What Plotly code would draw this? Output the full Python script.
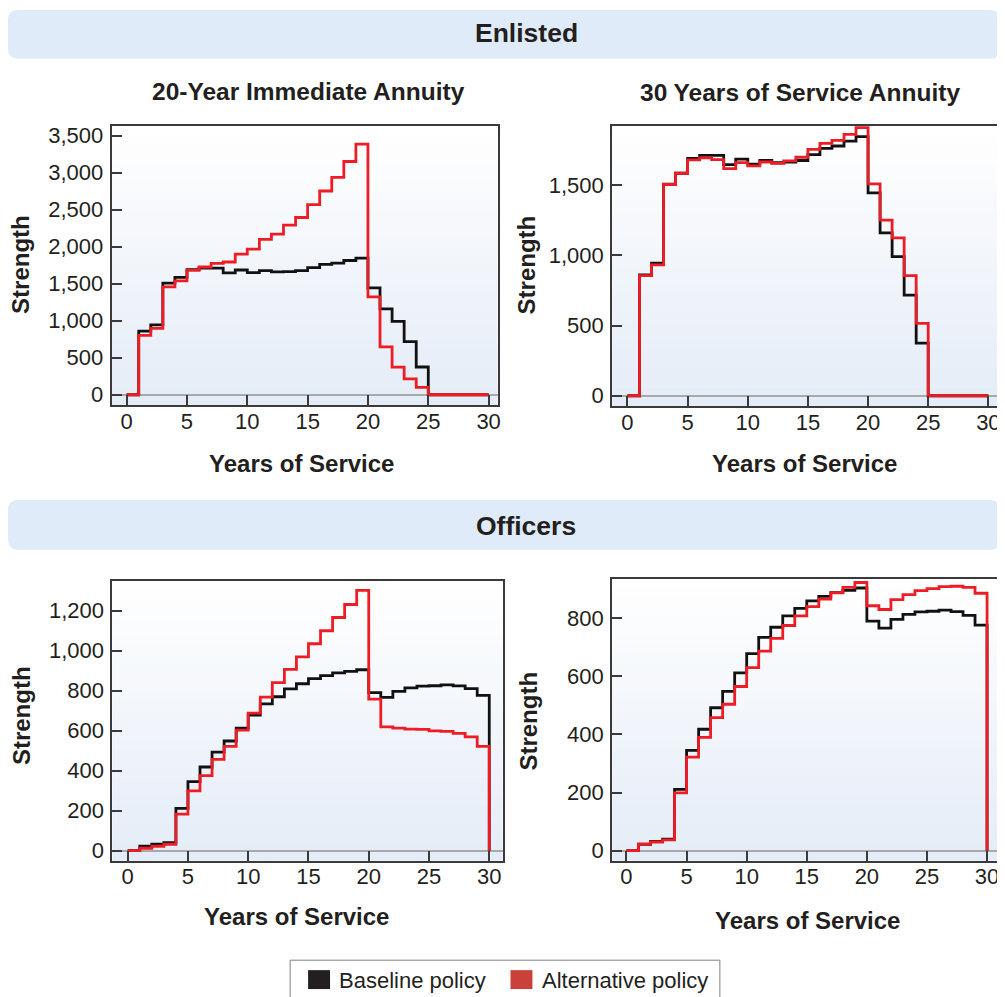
import plotly.graph_objects as go

# ---------------- data ----------------
years = [0, 1, 2, 3, 4, 5, 6, 7, 8, 9, 10, 11, 12, 13, 14, 15, 16, 17, 18, 19,
         20, 21, 22, 23, 24, 25, 26, 27, 28, 29, 30]

# value of each year-of-service cell [k, k+1); last entry is the level at year 30
enlisted_baseline = [0, 860, 945, 1508, 1585, 1690, 1712, 1712, 1646, 1686, 1650, 1677,
                     1660, 1664, 1676, 1718, 1762, 1779, 1814, 1846, 1445, 1160, 991,
                     717, 375, 0, 0, 0, 0, 0, 0]
enlisted_alt_20yr = [0, 803, 897, 1457, 1538, 1682, 1726, 1776, 1794, 1901, 1969, 2099,
                     2170, 2291, 2395, 2570, 2753, 2937, 3152, 3386, 1323, 646, 372,
                     215, 99, 0, 0, 0, 0, 0, 0]
enlisted_alt_30yr = [0, 855, 932, 1505, 1585, 1680, 1694, 1682, 1618, 1661, 1637, 1665,
                     1656, 1673, 1699, 1755, 1798, 1819, 1862, 1911, 1509, 1251, 1124,
                     856, 516, 0, 0, 0, 0, 0, 0]
officer_baseline = [0, 22, 32, 40, 211, 345, 418, 492, 548, 612, 678, 734, 769, 808, 834,
                    860, 875, 888, 896, 904, 790, 766, 796, 813, 822, 824, 828, 823, 810,
                    776, 0]
officer_alt_20yr = [0, 12, 22, 32, 183, 299, 375, 456, 521, 602, 687, 767, 840, 906, 968,
                    1034, 1099, 1165, 1230, 1301, 757, 619, 612, 607, 606, 599, 596, 586,
                    569, 521, 0]
officer_alt_30yr = [0, 23, 30, 37, 199, 322, 390, 458, 504, 565, 630, 687, 731, 775, 808,
                    840, 866, 887, 906, 923, 843, 830, 864, 881, 895, 902, 909, 910, 906,
                    886, 0]

series_names = ["Baseline policy", "Alternative policy"]
group_titles = ["Enlisted", "Officers"]
panel_titles = ["20-Year Immediate Annuity", "30 Years of Service Annuity"]
x_title = "Years of Service"
y_title = "Strength"
x_ticks = [0, 5, 10, 15, 20, 25, 30]

# ---------------- styling ----------------
W, H = 1005, 997
OFF = 8  # page body margin
FONT = "Liberation Sans, Arial, Helvetica, sans-serif"
TXT = "#231F20"
BLACK_LINE = "#111111"
RED_LINE = "#EE1C25"
BLACK_KEY = "#231F20"
RED_KEY = "#C9413A"

def px_x(p):
    return (p - OFF) / W

def px_y(p):
    return 1 - (p - OFF) / H

# panel geometry (page pixels) and axis ranges
panels = [
    dict(xpx=(112, 499), ypx=(124, 405), xr=[-1.24, 30.74], yr=[-144, 3638], dt=500,
         base=enlisted_baseline, alt=enlisted_alt_20yr),
    dict(xpx=(614, 1010), ypx=(124.7, 406), xr=[-1.27, 31.55], yr=[-76, 1920], dt=500,
         base=enlisted_baseline, alt=enlisted_alt_30yr),
    dict(xpx=(112.7, 504), ypx=(581, 862.3), xr=[-1.27, 31.1], yr=[-51, 1349], dt=200,
         base=officer_baseline, alt=officer_alt_20yr),
    dict(xpx=(614, 1010), ypx=(579, 862.3), xr=[-1.19, 31.66], yr=[-35, 936], dt=200,
         base=officer_baseline, alt=officer_alt_30yr),
]

fig = go.Figure()
shapes = []
annotations = []

top_col = (255, 255, 255)
bot_col = (228, 236, 247)
NB = 30

for i, p in enumerate(panels, start=1):
    xa = "x" if i == 1 else f"x{i}"
    ya = "y" if i == 1 else f"y{i}"
    fig.add_trace(go.Scatter(x=years, y=p["base"], mode="lines", line_shape="hv",
                             line=dict(color=BLACK_LINE, width=2.8), name=series_names[0],
                             showlegend=False, xaxis=xa, yaxis=ya))
    fig.add_trace(go.Scatter(x=years, y=p["alt"], mode="lines", line_shape="hv",
                             line=dict(color=RED_LINE, width=2.8), name=series_names[1],
                             showlegend=False, xaxis=xa, yaxis=ya))
    xkey = "xaxis" if i == 1 else f"xaxis{i}"
    ykey = "yaxis" if i == 1 else f"yaxis{i}"
    axis_common = dict(showline=True, mirror=True, linecolor="#3A3A3A", linewidth=2,
                       ticks="inside", ticklen=10, tickwidth=1.5, tickcolor="#3A3A3A",
                       showgrid=False, tickfont=dict(family=FONT, size=22, color=TXT))
    fig.update_layout(**{
        xkey: dict(domain=[px_x(p["xpx"][0]), px_x(p["xpx"][1])], range=p["xr"],
                   tickvals=x_ticks, zeroline=False, anchor=ya,
                   ticklabelstandoff=-5, **axis_common),
        ykey: dict(domain=[px_y(p["ypx"][1]), px_y(p["ypx"][0])], range=p["yr"],
                   dtick=p["dt"], tick0=0, tickformat=",d", zeroline=True,
                   zerolinecolor="#A9A9A9", zerolinewidth=1.6,
                   anchor=xa, ticklabelstandoff=2, **axis_common),
    })
    xref_d = f"{xa} domain"
    yref_d = f"{ya} domain"
    for b in range(NB):
        t = (b + 0.5) / NB
        c = tuple(round(bot_col[k] + (top_col[k] - bot_col[k]) * t) for k in range(3))
        shapes.append(dict(type="rect", xref=xref_d, yref=yref_d, x0=0, x1=1,
                           y0=b / NB, y1=(b + 1) / NB + 0.002, layer="below",
                           line=dict(width=0), fillcolor=f"rgb{c}"))

# header bars with rounded corners
def rounded(x0p, x1p, y0p, y1p, r=10):
    x0, x1 = px_x(x0p), px_x(x1p)
    yt, yb = px_y(y0p), px_y(y1p)
    rx, ry = r / W, r / H
    return (f"M {x0+rx},{yt} L {x1-rx},{yt} Q {x1},{yt} {x1},{yt-ry} "
            f"L {x1},{yb+ry} Q {x1},{yb} {x1-rx},{yb} L {x0+rx},{yb} "
            f"Q {x0},{yb} {x0},{yb+ry} L {x0},{yt-ry} Q {x0},{yt} {x0+rx},{yt} Z")

for (y0p, y1p) in [(8, 57), (500, 550)]:
    shapes.append(dict(type="path", xref="paper", yref="paper",
                       path=rounded(8, 1003, y0p, y1p), fillcolor="#DFEBF8",
                       line=dict(width=0), layer="below"))

def ann(text, xp, yp, size, bold=True, angle=0, xanchor="center"):
    annotations.append(dict(text=text, x=px_x(xp), y=px_y(yp), xref="paper",
                            yref="paper", showarrow=False, xanchor=xanchor,
                            yanchor="middle", textangle=angle,
                            font=dict(family=FONT, size=size, color=TXT,
                                      weight="bold" if bold else "normal")))

ann(group_titles[0], 528, 31, 26.5)
ann(group_titles[1], 528, 526, 26.5)
ann(panel_titles[0], 309.5, 90, 24.5)
ann(panel_titles[1], 802, 91, 24.5)
ann(x_title, 302, 463, 24)
ann(x_title, 807, 463, 24)
ann(x_title, 297, 918, 24)
ann(x_title, 810, 922, 24)
ann(y_title, 21, 263, 24, angle=-90)
ann(y_title, 529, 264, 24, angle=-90)
ann(y_title, 21, 716, 24, angle=-90)
ann(y_title, 530, 722, 24, angle=-90)

# legend (drawn as keys + real text)
shapes.append(dict(type="rect", xref="paper", yref="paper", x0=px_x(291), x1=px_x(722),
                   y0=px_y(1015), y1=px_y(962), line=dict(color="#808080", width=1),
                   fillcolor="white"))
shapes.append(dict(type="rect", xref="paper", yref="paper", x0=px_x(309), x1=px_x(331),
                   y0=px_y(991), y1=px_y(972), line=dict(width=0), fillcolor=BLACK_KEY))
shapes.append(dict(type="rect", xref="paper", yref="paper", x0=px_x(512), x1=px_x(534),
                   y0=px_y(991), y1=px_y(972), line=dict(width=0), fillcolor=RED_KEY))
ann(series_names[0], 338, 982, 22, bold=False, xanchor="left")
ann(series_names[1], 542, 982, 22, bold=False, xanchor="left")

fig.update_layout(width=W, height=H, margin=dict(l=0, r=0, t=0, b=0),
                  paper_bgcolor="white", plot_bgcolor="white", showlegend=False,
                  shapes=shapes, annotations=annotations,
                  font=dict(family=FONT, color=TXT))

fig.write_html("out.html")
